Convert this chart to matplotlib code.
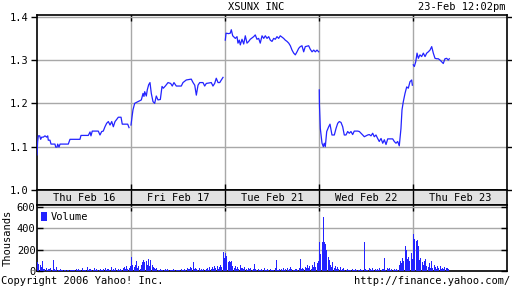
import numpy as np
import matplotlib.pyplot as plt

days = ["Thu Feb 16", "Fri Feb 17", "Tue Feb 21", "Wed Feb 22", "Thu Feb 23"]

# time of each quote as fraction of the trading day, price in dollars
price_t = [
    [0.000, 0.007, 0.014, 0.029, 0.039, 0.050, 0.067, 0.085, 0.103, 0.114,
     0.120, 0.138, 0.149, 0.173, 0.191, 0.199, 0.213, 0.220, 0.234, 0.245,
     0.263, 0.333, 0.351, 0.457, 0.468, 0.546, 0.564, 0.574, 0.588, 0.652,
     0.670, 0.688, 0.705, 0.723, 0.741, 0.759, 0.777, 0.795, 0.812, 0.830,
     0.848, 0.865, 0.894, 0.907, 0.929, 0.965, 0.979],
    [0.000, 0.011, 0.021, 0.039, 0.056, 0.074, 0.093, 0.110, 0.128, 0.138,
     0.146, 0.163, 0.173, 0.188, 0.202, 0.216, 0.234, 0.252, 0.269, 0.287,
     0.312, 0.330, 0.344, 0.365, 0.394, 0.422, 0.439, 0.457, 0.482, 0.535,
     0.553, 0.588, 0.641, 0.660, 0.678, 0.695, 0.713, 0.731, 0.766, 0.784,
     0.801, 0.854, 0.872, 0.890, 0.907, 0.926, 0.944, 0.961, 0.979],
    [0.003, 0.011, 0.039, 0.056, 0.067, 0.082, 0.110, 0.128, 0.138, 0.152,
     0.163, 0.181, 0.199, 0.216, 0.234, 0.252, 0.269, 0.305, 0.322, 0.340,
     0.358, 0.375, 0.394, 0.412, 0.429, 0.447, 0.465, 0.482, 0.500, 0.518,
     0.535, 0.553, 0.571, 0.588, 0.606, 0.624, 0.641, 0.660, 0.678, 0.695,
     0.713, 0.731, 0.748, 0.766, 0.784, 0.801, 0.819, 0.837, 0.854, 0.890,
     0.907, 0.926, 0.944, 0.961, 0.979, 0.997],
    [0.003, 0.005, 0.014, 0.032, 0.046, 0.056, 0.067, 0.082, 0.103, 0.117,
     0.138, 0.163, 0.181, 0.199, 0.216, 0.234, 0.252, 0.269, 0.287, 0.305,
     0.322, 0.340, 0.358, 0.375, 0.412, 0.429, 0.447, 0.465, 0.482, 0.518,
     0.535, 0.553, 0.571, 0.588, 0.606, 0.624, 0.641, 0.660, 0.678, 0.695,
     0.713, 0.731, 0.784, 0.801, 0.819, 0.837, 0.854, 0.872, 0.883, 0.897,
     0.915, 0.933, 0.950, 0.968, 0.986, 0.993],
    [0.003, 0.014, 0.029, 0.043, 0.057, 0.074, 0.092, 0.110, 0.128, 0.146,
     0.163, 0.181, 0.199, 0.216, 0.234, 0.252, 0.269, 0.287, 0.305, 0.322,
     0.340, 0.358, 0.375, 0.386],
]
price_v = [
    [1.081, 1.112, 1.125, 1.125, 1.117, 1.122, 1.122, 1.125, 1.122, 1.125,
     1.115, 1.115, 1.106, 1.106, 1.106, 1.099, 1.099, 1.106, 1.099, 1.106,
     1.106, 1.106, 1.117, 1.117, 1.126, 1.126, 1.134, 1.125, 1.136, 1.136,
     1.127, 1.135, 1.136, 1.146, 1.154, 1.158, 1.150, 1.158, 1.146, 1.158,
     1.163, 1.168, 1.168, 1.152, 1.152, 1.152, 1.144],
    [1.150, 1.169, 1.185, 1.200, 1.202, 1.204, 1.206, 1.208, 1.223, 1.216,
     1.227, 1.217, 1.231, 1.243, 1.248, 1.223, 1.204, 1.200, 1.217, 1.208,
     1.209, 1.239, 1.235, 1.240, 1.248, 1.246, 1.240, 1.248, 1.240, 1.240,
     1.248, 1.254, 1.256, 1.248, 1.242, 1.219, 1.242, 1.248, 1.248, 1.240,
     1.246, 1.248, 1.240, 1.246, 1.258, 1.248, 1.248, 1.254, 1.260],
    [1.346, 1.362, 1.361, 1.362, 1.370, 1.356, 1.350, 1.354, 1.339, 1.346,
     1.335, 1.348, 1.337, 1.356, 1.339, 1.343, 1.348, 1.354, 1.358, 1.348,
     1.350, 1.339, 1.356, 1.350, 1.356, 1.350, 1.354, 1.346, 1.343, 1.350,
     1.348, 1.354, 1.350, 1.356, 1.353, 1.350, 1.346, 1.343, 1.339, 1.333,
     1.323, 1.316, 1.312, 1.319, 1.327, 1.331, 1.333, 1.319, 1.331, 1.333,
     1.325, 1.319, 1.323, 1.319, 1.323, 1.319],
    [1.231, 1.196, 1.142, 1.108, 1.100, 1.108, 1.100, 1.135, 1.146, 1.152,
     1.127, 1.127, 1.142, 1.154, 1.158, 1.156, 1.146, 1.127, 1.127, 1.135,
     1.131, 1.135, 1.128, 1.136, 1.136, 1.135, 1.131, 1.127, 1.123, 1.127,
     1.128, 1.125, 1.131, 1.123, 1.127, 1.119, 1.112, 1.119, 1.108, 1.116,
     1.105, 1.118, 1.118, 1.112, 1.108, 1.112, 1.102, 1.142, 1.185, 1.204,
     1.223, 1.238, 1.235, 1.250, 1.254, 1.242],
    [1.289, 1.285, 1.296, 1.316, 1.304, 1.312, 1.308, 1.316, 1.308, 1.316,
     1.319, 1.323, 1.331, 1.316, 1.304, 1.303, 1.303, 1.300, 1.296, 1.292,
     1.303, 1.304, 1.300, 1.303],
]

# volume in thousands, one value per 5 minute bar
volume = [
    [80, 65, 55, 40, 90, 20, 15, 25, 10, 20, 15, 30, 10, 100, 15, 10, 40, 10, 5, 15,
     10, 5, 10, 5, 0, 5, 8, 5, 10, 5, 8, 5, 15, 8, 20, 10, 5, 25, 10, 8,
     5, 35, 10, 15, 20, 5, 10, 25, 8, 15, 10, 5, 20, 10, 5, 15, 25, 10, 20, 15,
     5, 40, 10, 15, 5, 30, 10, 20, 8, 15, 10, 25, 35, 20, 50, 15, 30, 45],
    [130, 55, 40, 60, 90, 30, 45, 20, 60, 85, 100, 80, 95, 60, 110, 45, 100, 55, 40, 30,
     15, 25, 10, 8, 15, 5, 10, 5, 15, 5, 20, 8, 5, 10, 5, 15, 8, 10, 5, 5,
     10, 15, 8, 5, 20, 10, 30, 15, 20, 35, 25, 85, 20, 30, 15, 10, 25, 5, 15, 10,
     20, 8, 15, 30, 10, 40, 20, 35, 15, 50, 30, 45, 20, 35, 60, 40, 180, 120],
    [170, 140, 85, 90, 85, 90, 50, 30, 45, 20, 35, 15, 60, 30, 25, 15, 40, 20, 10, 30,
     15, 25, 10, 20, 65, 15, 8, 20, 10, 5, 15, 10, 25, 8, 5, 15, 10, 20, 5, 10,
     8, 30, 100, 10, 5, 15, 20, 10, 25, 8, 15, 30, 10, 20, 35, 15, 5, 10, 20, 15,
     10, 25, 110, 15, 30, 20, 40, 25, 55, 30, 45, 20, 60, 35, 80, 40, 70, 90],
    [270, 160, 270, 500, 270, 250, 200, 130, 100, 60, 40, 80, 30, 50, 20, 35, 15, 40, 10, 20,
     25, 8, 5, 15, 10, 5, 8, 20, 5, 10, 15, 5, 10, 5, 15, 8, 5, 270, 20, 10,
     5, 25, 15, 8, 30, 10, 20, 5, 15, 10, 25, 8, 15, 20, 125, 10, 25, 15, 30, 8,
     20, 10, 15, 5, 20, 10, 60, 90, 70, 120, 90, 230, 200, 110, 130, 90, 170, 110],
    [340, 300, 280, 290, 230, 100, 120, 80, 60, 90, 110, 50, 40, 70, 30, 90, 25, 60, 35, 20,
     50, 30, 45, 20, 30, 15, 40, 25, 30, 15],
]

price_ticks = [1.0, 1.1, 1.2, 1.3, 1.4]
volume_ticks = [0, 200, 400, 600]

blue = '#2323ff'
grid = '#a8a8a8'
font = 'DejaVu Sans Mono'
fs = 7.5
plt.rcParams['font.family'] = font

fig = plt.figure(figsize=(5.12, 2.88), dpi=100)
ax = fig.add_axes([37/512, 98/288, 470/512, 175/288])
band = fig.add_axes([37/512, 83/288, 470/512, 15/288])
axv = fig.add_axes([37/512, 17/288, 470/512, 66/288])

for d in range(len(days)):
    t = np.array(price_t[d]) + d
    ax.plot(t, price_v[d], color=blue, lw=0.9, zorder=3)
    vols = volume[d]
    xs = d + (np.arange(len(vols)) + 0.5) / 78
    axv.bar(xs, vols, width=0.85/78, color=blue, linewidth=0, zorder=3,
            label='Volume' if d == 0 else None)

for a in (ax, band, axv):
    a.set_xlim(0, 5)
    for s in a.spines.values():
        s.set_linewidth(1.2)

ax.set_ylim(1.0, 1.404)
ax.set_yticks(price_ticks)
ax.set_yticklabels(['%.1f' % v for v in price_ticks])
ax.set_xticks([1, 2, 3, 4])
ax.set_xticklabels([])
ax.grid(True, color=grid, lw=1.0, zorder=0)
ax.tick_params(axis='y', direction='out', length=4, width=1, labelsize=fs, pad=2,
               right=True)
ax.tick_params(axis='x', direction='in', length=4, width=1, top=True, bottom=True)

band.set_facecolor('#e2e2e2')
band.set_ylim(0, 1)
band.set_xticks([])
band.set_yticks([])
for d, name in enumerate(days):
    band.text(d + 0.5, 0.45, name, ha='center', va='center', fontsize=fs)
band.vlines([1, 2, 3, 4], 0, 1, color='black', lw=1)

axv.set_ylim(0, 614)
axv.set_yticks(volume_ticks)
axv.set_yticklabels([str(v) for v in volume_ticks])
axv.set_xticks([1, 2, 3, 4])
axv.set_xticklabels([])
axv.grid(True, color=grid, lw=1.0, zorder=0)
axv.tick_params(axis='y', direction='in', length=4, width=1, labelsize=fs, pad=1,
                right=True)
axv.tick_params(axis='x', direction='in', length=4, width=1, top=True, bottom=False)
axv.set_ylabel('Thousands', fontsize=fs)
axv.yaxis.set_label_coords(-0.051, 0.5)
axv.legend(loc='upper left', frameon=False, fontsize=fs, handlelength=0.6,
           handleheight=0.9, handletextpad=0.3, borderpad=0.3,
           borderaxespad=0.1, bbox_to_anchor=(0.0, 0.96))

fig.text(256/512, 1 - 7/288, 'XSUNX INC', ha='center', va='center', fontsize=fs)
fig.text(506/512, 1 - 7/288, '23-Feb 12:02pm', ha='right', va='center', fontsize=fs)
fig.text(1/512, 1 - 281/288, 'Copyright 2006 Yahoo! Inc.', ha='left', va='center',
         fontsize=fs)
fig.text(510/512, 1 - 281/288, 'http://finance.yahoo.com/', ha='right', va='center',
         fontsize=fs)

fig.savefig('out.png', dpi=100)
